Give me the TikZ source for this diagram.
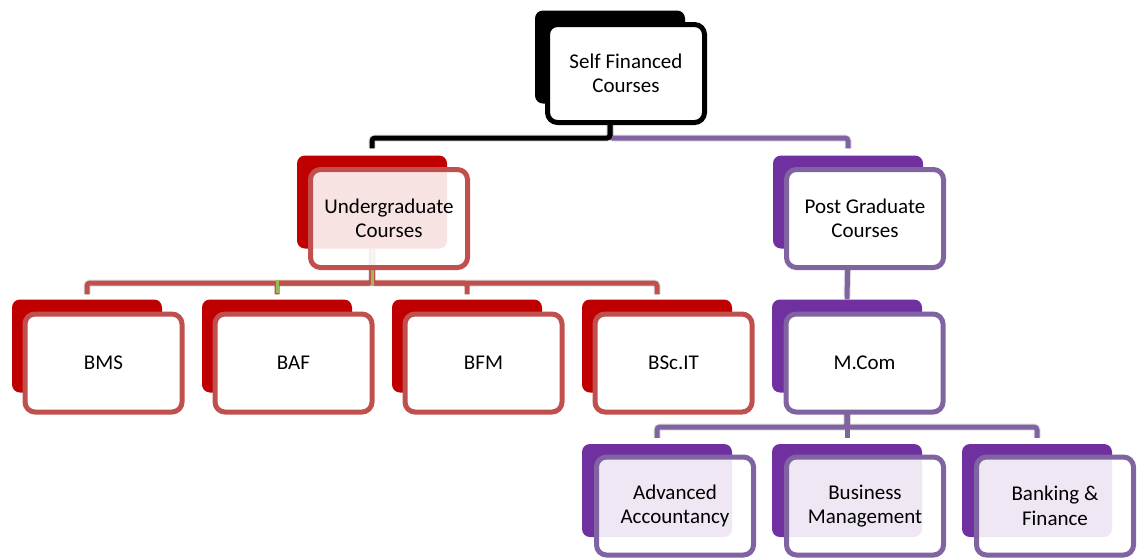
\documentclass[tikz,border=0pt]{standalone}
\usepackage{fontspec}
\setmainfont{Carlito}
\begin{document}
\definecolor{redback}{HTML}{C00000}
\definecolor{redline}{HTML}{C0504D}
\definecolor{purpleback}{HTML}{7030A0}
\definecolor{purpleline}{HTML}{8064A2}
\definecolor{stubgreen}{HTML}{9BBB59}
\begin{tikzpicture}[x=1pt,y=-1pt,
  backbox/.style={rectangle, rounded corners=8pt, minimum width=150pt, minimum height=93pt, inner sep=0pt, fill=#1},
  frontbox/.style={rectangle, rounded corners=10pt, line width=5pt, minimum width=157pt, minimum height=98pt,
    inner sep=0pt, align=center, draw=#1, fill=white, text=black,
    font=\fontsize{21}{24.5}\selectfont},
  tinted/.style={fill opacity=0.89, text opacity=1},
  conn/.style={line width=5pt, draw=#1, rounded corners=3pt},
  connshadow/.style={line width=7pt, draw=black, draw opacity=0.13, rounded corners=3pt, shift={(1.5,3)}},
]
\useasboundingbox (0,0) rectangle (1144,558);

% back plates
\node[backbox=black] (topB) at (610,57) {};
\node[backbox=redback] (ugB) at (372,202) {};
\node[backbox=purpleback] (pgB) at (848,202) {};
\node[backbox=redback] (bmsB) at (87,346) {};
\node[backbox=redback] (bafB) at (277,346) {};
\node[backbox=redback] (bfmB) at (467,346) {};
\node[backbox=redback] (bscB) at (657,346) {};
\node[backbox=purpleback] (mcomB) at (847,346) {};
\node[backbox=purpleback] (advB) at (657,490.5) {};
\node[backbox=purpleback] (busB) at (847,490.5) {};
\node[backbox=purpleback] (bankB) at (1037,490.5) {};

% bus levels
\coordinate (bus1) at (612,138);
\coordinate (bus2) at (372,283);
\coordinate (bus3) at (847,427);

% soft shadows under the connectors
\draw[connshadow] (topB.south) -- (topB.south |- bus1) -| ([yshift=7pt]ugB.north);
\draw[connshadow] (topB.south) -- (topB.south |- bus1) -| ([yshift=7pt]pgB.north);
\draw[connshadow] (ugB.south) -- (ugB.south |- bus2) -| ([yshift=5pt]bmsB.north);
\draw[connshadow] (ugB.south) -- (ugB.south |- bus2) -| ([yshift=5pt]bscB.north);
\draw[connshadow] (pgB.south) -- ([yshift=3pt]mcomB.north);
\draw[connshadow] (mcomB.south) -- (mcomB.south |- bus3) -| ([yshift=6pt]advB.north);
\draw[connshadow] (mcomB.south) -- (mcomB.south |- bus3) -| ([yshift=6pt]bankB.north);

% top level connectors
\draw[conn=purpleline] (topB.south) -- (topB.south |- bus1) -| ([yshift=7pt]pgB.north);
\draw[conn=black] (topB.south) -- (topB.south |- bus1) -| ([yshift=7pt]ugB.north);

% undergraduate branch
\draw[conn=redline] (ugB.south) -- (ugB.south |- bus2) -| ([yshift=5pt]bmsB.north);
\draw[conn=redline] (ugB.south) -- (ugB.south |- bus2) -| ([yshift=5pt]bafB.north);
\draw[conn=redline] (ugB.south) -- (ugB.south |- bus2) -| ([yshift=5pt]bfmB.north);
\draw[conn=redline] (ugB.south) -- (ugB.south |- bus2) -| ([yshift=5pt]bscB.north);
\draw[line width=3pt, stubgreen] (ugB.south) -- ([yshift=-3pt]ugB.south |- bus2);
\draw[line width=3pt, stubgreen] ([yshift=3pt]bafB.north |- bus2) -- ([yshift=6pt]bafB.north);

% postgraduate branch
\draw[conn=purpleline] (pgB.south) -- (mcomB.north);
\draw[conn=purpleline] (mcomB.south) -- (mcomB.south |- bus3) -| ([yshift=6pt]advB.north);
\draw[conn=purpleline] (mcomB.south) -- (mcomB.south |- bus3) -| ([yshift=6pt]busB.north);
\draw[conn=purpleline] (mcomB.south) -- (mcomB.south |- bus3) -| ([yshift=6pt]bankB.north);

% front cards
\node[frontbox=black] (top) at (626,73.5) {Self Financed\\Courses};
\node[frontbox=redline, tinted] (ug) at (389,218.5) {Undergraduate\\Courses};
\node[frontbox=purpleline] (pg) at (865,218.5) {Post Graduate\\Courses};
\node[frontbox=redline] (bms) at (103.5,363) {BMS};
\node[frontbox=redline] (baf) at (293.5,363) {BAF};
\node[frontbox=redline] (bfm) at (483.5,363) {BFM};
\node[frontbox=redline] (bsc) at (673.5,363) {BSc.IT};
\node[frontbox=purpleline] (mcom) at (864.5,363) {M.Com};
\node[frontbox=purpleline, tinted] (adv) at (675,506) {Advanced\\Accountancy};
\node[frontbox=purpleline, tinted] (bus) at (865,506) {Business\\Management};
\node[frontbox=purpleline, tinted] (bank) at (1055,506) {Banking \&\\Finance};
\end{tikzpicture}
\end{document}
